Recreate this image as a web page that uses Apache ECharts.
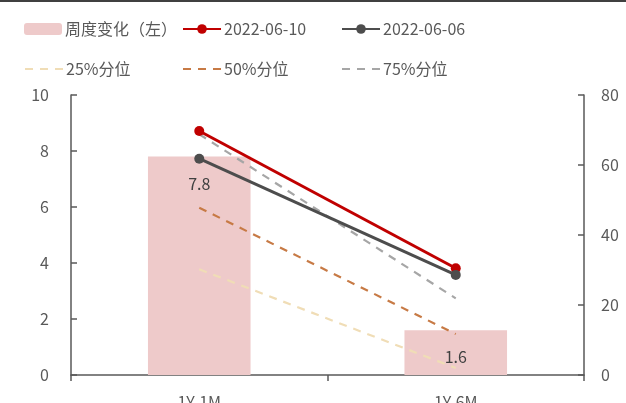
<!DOCTYPE html>
<html><head><meta charset="utf-8">
<script src="https://cdn.jsdelivr.net/npm/echarts@6/dist/echarts.min.js"></script>
<style>html,body{margin:0;padding:0;background:#fff}#c{width:626px;height:403px}</style>
</head><body><div id="c"></div>
<script>
const categories = ['1Y-1M', '1Y-6M'];
const weeklyChange = [7.8, 1.6];
const s20220610 = [69.7, 30.5];
const s20220606 = [61.8, 28.6];
const p25 = [30.2, 2.0];
const p50 = [47.8, 11.7];
const p75 = [68.8, 21.9];
const leftTicks = [0, 10, 2];
const rightTicks = [0, 80, 20];

const FONT = '"Noto Sans CJK SC", "Noto Sans", sans-serif';
const TXT = '#595959';
const names = ['周度变化（左）', '2022-06-10', '2022-06-06', '25%分位', '50%分位', '75%分位'];
const pos = [[19, 16], [177, 16], [336, 16], [19, 56], [177, 56], [336, 56]];
const legends = names.map((n, i) => {
  const l = {
    data: [n], left: pos[i][0], top: pos[i][1], itemWidth: 38, itemHeight: 12,
    itemGap: 4, textStyle: { fontSize: 16, color: TXT, fontFamily: FONT, padding: [0, 0, 0, -2] },
    selectedMode: false
  };
  if (i >= 3) l.itemStyle = { opacity: 0 };
  return l;
});

const chart = echarts.init(document.getElementById('c'));
chart.setOption({
  animation: false,
  textStyle: { fontFamily: FONT },
  legend: legends,
  graphic: [{ type: 'rect', shape: { x: 0, y: 0, width: 626, height: 2 }, style: { fill: '#404040' } }],
  grid: { left: 71, right: 42, top: 95, bottom: 28, containLabel: false, outerBoundsMode: 'none' },
  xAxis: {
    type: 'category', data: categories,
    axisLine: { lineStyle: { color: '#595959', width: 1.5 } },
    axisTick: { show: true, length: 6, lineStyle: { color: '#595959', width: 1.5 } },
    axisLabel: { fontSize: 16, color: TXT, margin: 19, fontFamily: FONT }
  },
  yAxis: [{
    type: 'value', min: leftTicks[0], max: leftTicks[1], interval: leftTicks[2],
    splitLine: { show: false },
    axisLine: { show: true, lineStyle: { color: '#595959', width: 1.5 } },
    axisTick: { show: true, inside: true, length: 6, lineStyle: { color: '#595959', width: 1.5 } },
    axisLabel: { fontSize: 16, color: TXT, margin: 22, fontFamily: FONT }
  }, {
    type: 'value', min: rightTicks[0], max: rightTicks[1], interval: rightTicks[2],
    splitLine: { show: false },
    axisLine: { show: true, lineStyle: { color: '#595959', width: 1.5 } },
    axisTick: { show: true, inside: true, length: 6, lineStyle: { color: '#595959', width: 1.5 } },
    axisLabel: { fontSize: 16, color: TXT, margin: 17, fontFamily: FONT }
  }],
  series: [
    { name: names[0], type: 'bar', data: weeklyChange, barWidth: '40%', yAxisIndex: 0,
      itemStyle: { color: '#EECACA' },
      label: { show: true, position: 'insideTop', distance: 19, fontSize: 16, color: '#404040', fontFamily: FONT } },
    { name: names[1], type: 'line', data: s20220610, yAxisIndex: 1, symbol: 'circle', symbolSize: 10,
      lineStyle: { color: '#C00000', width: 3 }, itemStyle: { color: '#C00000' }, z: 5 },
    { name: names[2], type: 'line', data: s20220606, yAxisIndex: 1, symbol: 'circle', symbolSize: 10,
      lineStyle: { color: '#4D4D4D', width: 3 }, itemStyle: { color: '#4D4D4D' }, z: 5 },
    { name: names[3], type: 'line', data: p25, yAxisIndex: 1, symbol: 'none',
      lineStyle: { color: '#F0DDB6', width: 2.2, type: [8, 7] }, itemStyle: { color: '#F0DDB6' } },
    { name: names[4], type: 'line', data: p50, yAxisIndex: 1, symbol: 'none',
      lineStyle: { color: '#C77A45', width: 2.2, type: [8, 7] }, itemStyle: { color: '#C77A45' } },
    { name: names[5], type: 'line', data: p75, yAxisIndex: 1, symbol: 'none',
      lineStyle: { color: '#A6A6A6', width: 2.2, type: [8, 7] }, itemStyle: { color: '#A6A6A6' } }
  ]
});
</script></body></html>
